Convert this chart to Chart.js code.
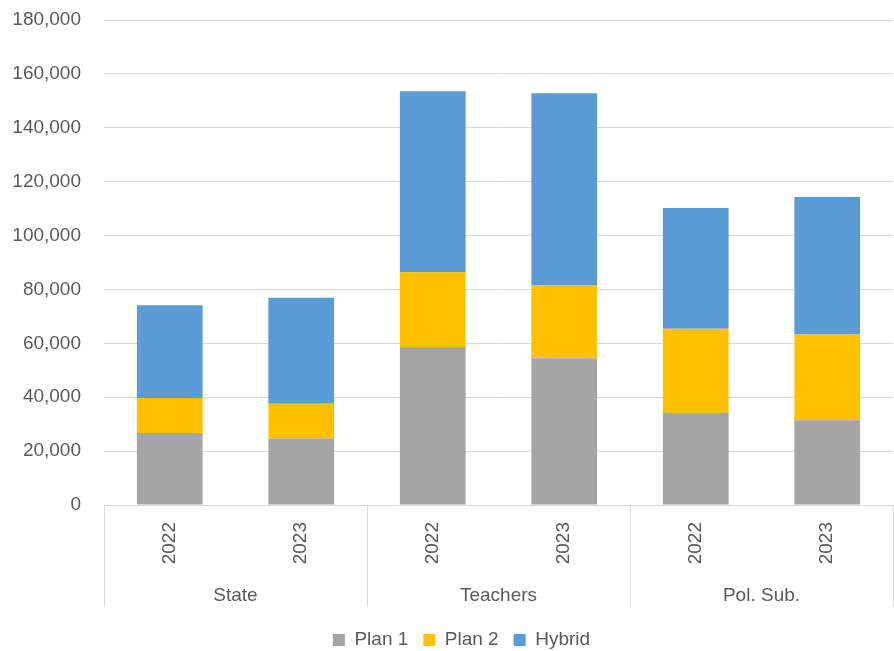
<!DOCTYPE html>
<html>
<head>
<meta charset="utf-8">
<script src="https://cdn.jsdelivr.net/npm/chart.js@4/dist/chart.umd.min.js"></script>
<style>
  html, body { margin: 0; padding: 0; background: #ffffff; }
  #wrap { width: 894px; height: 651px; position: relative; }
</style>
</head>
<body>
<div id="wrap"><canvas id="chart"></canvas></div>
<script>
// Membership by plan, two years per system
const groups = ['State', 'Teachers', 'Pol. Sub.'];
const years = ['2022', '2023', '2022', '2023', '2022', '2023'];
const plan1 = [26700, 24700, 58600, 54500, 34100, 31500];
const plan2 = [13000, 12900, 27800, 27000, 31300, 31800];
const hybrid = [34400, 39300, 67200, 71300, 44800, 51000];
const yTicks = { min: 0, max: 180000, step: 20000 };

const TEXT = '#595959';
const LINE = '#d9d9d9';
const FONT = { family: '"Liberation Sans", Arial, sans-serif', size: 19 };

// Separators between the groups, running through both label rows
const groupDividers = {
  id: 'groupDividers',
  afterDraw(chart) {
    const x = chart.scales.x;
    const x2 = chart.scales.x2;
    const ctx = chart.ctx;
    const per = years.length / groups.length;
    const step = (x.getPixelForValue(1) - x.getPixelForValue(0));
    const xs = [x.left];
    for (let g = 1; g < groups.length; g++) {
      xs.push(x.getPixelForValue(g * per) - step / 2);
    }
    xs.push(x.right);
    ctx.save();
    ctx.strokeStyle = LINE;
    ctx.lineWidth = 1;
    ctx.beginPath();
    xs.forEach(px => {
      const p = Math.round(px) + 0.5;
      ctx.moveTo(p, x.top);
      ctx.lineTo(p, x2.bottom);
    });
    ctx.stroke();
    ctx.restore();
  }
};

// Nudge the legend row a little lower and to the right
const legendOffset = {
  id: 'legendOffset',
  afterLayout(chart) {
    const lg = chart.legend;
    if (!lg) return;
    const dy = 8.5, dx = 15;
    lg.top += dy; lg.bottom += dy;
    lg.left += dx; lg.right += dx;
  }
};

new Chart(document.getElementById('chart'), {
  type: 'bar',
  data: {
    labels: years,
    datasets: [
      { label: 'Plan 1', data: plan1, backgroundColor: '#A5A5A5' },
      { label: 'Plan 2', data: plan2, backgroundColor: '#FFC000' },
      { label: 'Hybrid', data: hybrid, backgroundColor: '#5B9BD5' }
    ]
  },
  options: {
    responsive: true,
    maintainAspectRatio: false,
    animation: false,
    datasets: { bar: { barPercentage: 0.5, categoryPercentage: 1.0 } },
    layout: { padding: { top: 20, right: 1, left: 0, bottom: 0 } },
    plugins: {
      tooltip: { enabled: false },
      legend: {
        position: 'bottom',
        maxHeight: 45,
        labels: {
          color: TEXT,
          font: FONT,
          boxWidth: 12,
          boxHeight: 12,
          padding: 15
        }
      }
    },
    scales: {
      x: {
        stacked: true,
        offset: true,
        grid: { display: false, drawTicks: false },
        border: { display: true, color: LINE, width: 1 },
        ticks: {
          color: TEXT,
          font: FONT,
          minRotation: 90,
          maxRotation: 90,
          autoSkip: false,
          padding: 17
        },
        afterFit(scale) { scale.height = 72; }
      },
      x2: {
        type: 'category',
        labels: groups,
        position: 'bottom',
        offset: true,
        grid: { display: false, drawTicks: false },
        border: { display: false },
        ticks: { color: TEXT, font: FONT, padding: 7 },
        afterFit(scale) { scale.height = 30; }
      },
      y: {
        stacked: true,
        min: yTicks.min,
        max: yTicks.max,
        border: { display: false },
        grid: { color: LINE, lineWidth: 1, drawTicks: true, tickLength: 23, tickColor: 'rgba(0,0,0,0)' },
        ticks: {
          stepSize: yTicks.step,
          color: TEXT,
          font: FONT,
          padding: 0,
          callback: v => v.toLocaleString('en-US')
        },
        afterFit(scale) { scale.width = 104; }
      }
    }
  },
  plugins: [groupDividers, legendOffset]
});
</script>
</body>
</html>
